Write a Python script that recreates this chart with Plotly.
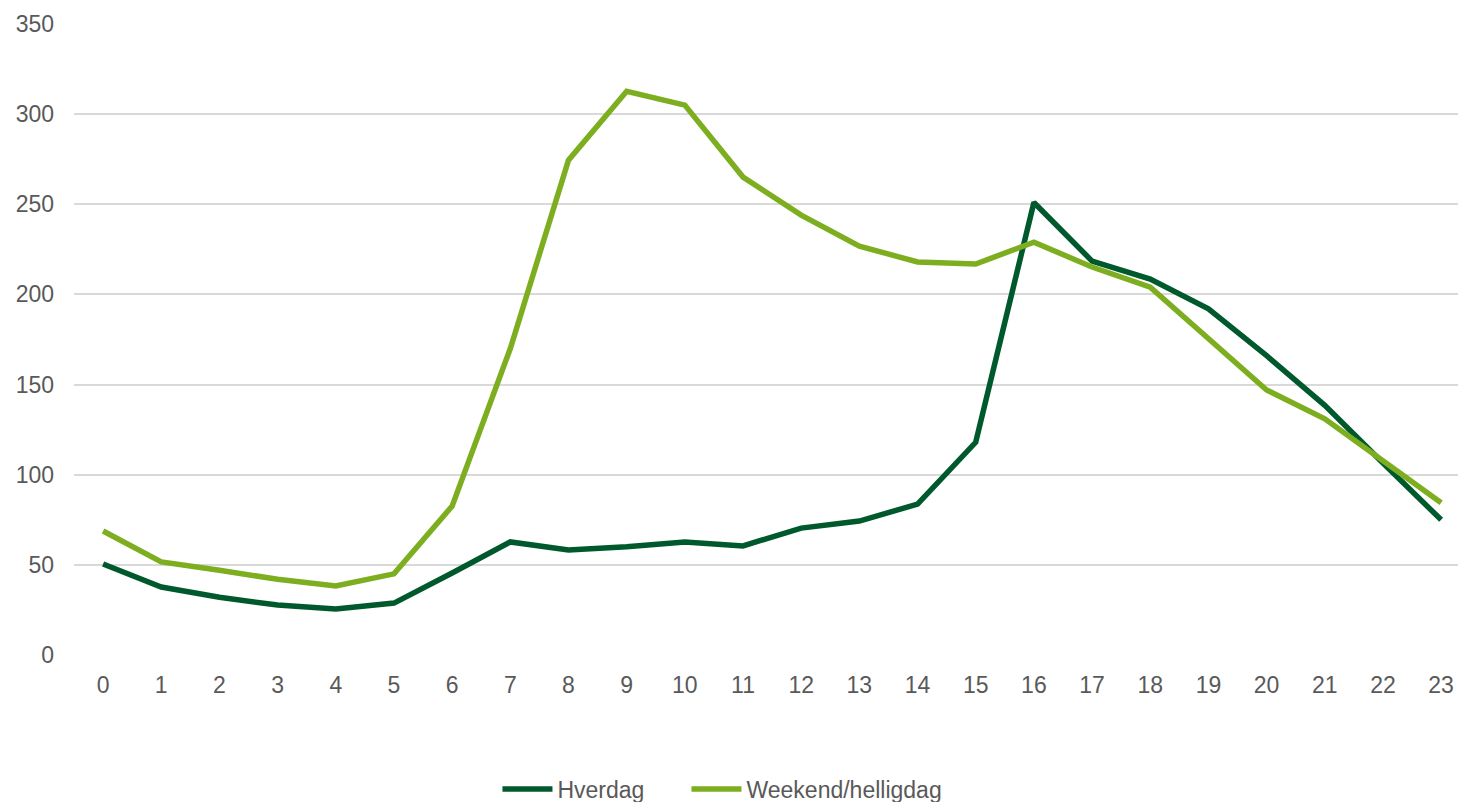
import plotly.graph_objects as go

hours = [str(h) for h in range(24)]
hverdag = [50.5, 37.7, 32, 27.7, 25.5, 28.8, 45.5, 62.7, 58.2, 60, 62.7, 60.5,
           70.4, 74.3, 83.7, 118, 251, 218.5, 208.5, 192, 166, 138.5, 106.5, 75]
weekend = [68.8, 51.6, 47, 42, 38.3, 45, 82.6, 170, 274.5, 312.7, 305, 265.1,
           244, 226.8, 218, 216.9, 229, 215.2, 204, 175.8, 147, 131, 108, 84.5]
y_ticks = [0, 50, 100, 150, 200, 250, 300, 350]

fig = go.Figure()
fig.add_trace(go.Scatter(x=hours, y=hverdag, mode="lines", name="Hverdag",
                         line=dict(color="#00592C", width=5.5), legendwidth=124))
fig.add_trace(go.Scatter(x=hours, y=weekend, mode="lines", name="Weekend/helligdag",
                         line=dict(color="#7DAE20", width=5.5), legendwidth=210))

H = 802
top, bottom = 24, 655
mb = 40
area_bottom = H - mb
area_h = area_bottom - top

fig.update_layout(
    width=1458, height=H,
    margin=dict(l=74, r=0, t=top, b=mb),
    plot_bgcolor="white", paper_bgcolor="white",
    font=dict(family="Liberation Sans, Arial", size=23, color="#595959"),
    showlegend=True,
    legend=dict(orientation="h", x=0.4736, xanchor="center",
                yref="container", y=(H - 789) / H, yanchor="middle",
                font=dict(size=23, color="#595959"), itemwidth=50,
                bgcolor="rgba(0,0,0,0)"),
    xaxis=dict(type="category", range=[-0.5, 23.29], showgrid=False, showline=False,
               zeroline=False, ticks="", tickfont=dict(size=23, color="#595959"),
               ticklabelstandoff=14, automargin=False),
    yaxis=dict(range=[0, 350], tickvals=y_ticks, showgrid=True, gridcolor="#D9D9D9",
               gridwidth=1.5, zeroline=False, showline=False, ticks="",
               domain=[(area_bottom - bottom) / area_h, 1], automargin=False,
               tickfont=dict(size=23, color="#595959"), ticklabelstandoff=19),
)

fig.write_html("out.html")
